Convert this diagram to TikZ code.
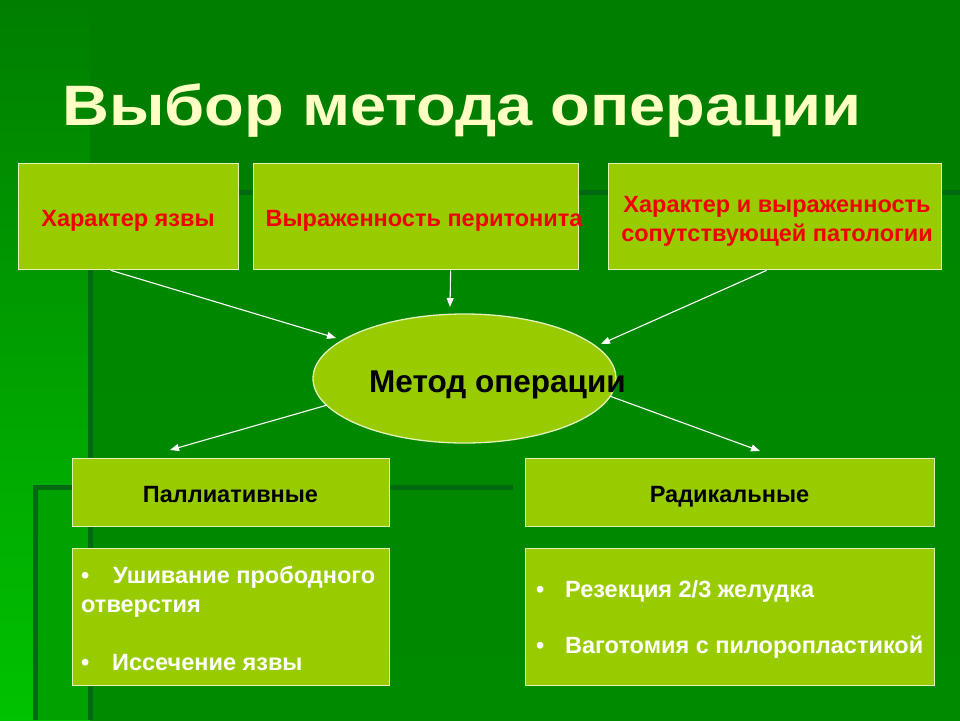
\documentclass[tikz,border=0pt]{standalone}
\usepackage{fontspec}
\setmainfont{Liberation Sans}
\newfontfamily\titlefont[FakeStretch=1.14]{Liberation Sans}
\usetikzlibrary{shapes.geometric,arrows.meta}
\definecolor{bgtop}{HTML}{007E00}
\definecolor{bgmid}{HTML}{008600}
\definecolor{bgbot}{HTML}{00C200}
\definecolor{panelA}{HTML}{008A00}
\definecolor{panelB}{HTML}{00A200}
\definecolor{edgedark}{HTML}{006A12}
\definecolor{boxfill}{HTML}{99CC00}
\definecolor{boxline}{HTML}{E2F2B8}
\definecolor{titlecol}{HTML}{FFFFC4}
\definecolor{redtext}{HTML}{F00000}
\tikzset{
  boxnode/.style={draw=boxline, line width=1.3pt, fill=boxfill, inner sep=0pt, anchor=north west},
  redlbl/.style={text=redtext, font=\fontsize{23.5}{28}\selectfont\bfseries, inner sep=0pt},
  blacklbl/.style={text=black, font=\fontsize{23.5}{28}\selectfont\bfseries, inner sep=0pt},
  whitelbl/.style={text=white, font=\fontsize{23.5}{28}\selectfont\bfseries, inner sep=0pt, anchor=base west},
  arr/.style={draw=white, line width=1.1pt, -{Triangle[length=9pt,width=7pt]}},
}
\begin{document}
\begin{tikzpicture}[x=1pt,y=-1pt]
\useasboundingbox (0,0) rectangle (960,720);
% background
\fill[bgtop] (0,0) rectangle (960,720);
\shade[top color=bgtop, bottom color=bgbot] (0,0) rectangle (90,720);
\shade[top color=bgmid, bottom color=panelA] (90,192) rectangle (960,720);
\fill[panelB] (35,487) rectangle (90,720);
\fill[edgedark] (88,190) rectangle (960,195);
\fill[edgedark] (88,190) rectangle (93,720);
\fill[edgedark] (33,485) rectangle (513,490);
\fill[edgedark] (33,485) rectangle (38,720);
% title
\node[anchor=base west, inner sep=0pt, text=titlecol, font=\titlefont\fontsize{57}{66}\selectfont\bfseries] (title) at (62,125) {Выбор метода операции};
% top boxes
\node[boxnode, minimum width=220pt, minimum height=106pt] (b1) at (18,163) {};
\node[boxnode, minimum width=325pt, minimum height=106pt] (b2) at (253,163) {};
\node[boxnode, minimum width=333pt, minimum height=106pt] (b3) at (608,163) {};
\node[redlbl, anchor=base] (t1) at (128,226) {Характер язвы};
\node[redlbl, anchor=base] (t2) at (424,226) {Выраженность перитонита};
\node[redlbl, anchor=base] (t3a) at (777,212) {Характер и выраженность};
\node[redlbl, anchor=base] (t3b) at (777,241) {сопутствующей патологии};
% ellipse
\node[ellipse, draw=boxline, line width=1.3pt, fill=boxfill, minimum width=303pt, minimum height=129pt, inner sep=0pt] (ell) at (464.5,378.5) {};
\node[anchor=base, inner sep=0pt, font=\fontsize{31.5}{36}\selectfont\bfseries] (etxt) at (497.5,392) {Метод операции};
% middle boxes
\node[boxnode, minimum width=317pt, minimum height=68pt] (b4) at (72,458) {};
\node[boxnode, minimum width=409pt, minimum height=68pt] (b5) at (525,458) {};
\node[blacklbl, anchor=base] (t4) at (230.5,502) {Паллиативные};
\node[blacklbl, anchor=base] (t5) at (729.5,502) {Радикальные};
% lower boxes
\node[boxnode, minimum width=317pt, minimum height=137pt] (b6) at (72,548) {};
\node[boxnode, minimum width=409pt, minimum height=137pt] (b7) at (525,548) {};
\node[whitelbl] (u1) at (81,583) {•};
\node[whitelbl] (u2) at (113,583) {Ушивание прободного};
\node[whitelbl] (u3) at (81,612) {отверстия};
\node[whitelbl] (u4) at (81,670) {•};
\node[whitelbl] (u5) at (112,670) {Иссечение язвы};
\node[whitelbl] (r1) at (536,597) {•};
\node[whitelbl] (r2) at (565,597) {Резекция 2/3 желудка};
\node[whitelbl] (r3) at (536,653) {•};
\node[whitelbl] (r4) at (565,653) {Ваготомия с пилоропластикой};
% connectors
\coordinate (e1) at (336,338);
\coordinate (e2) at (450,307);
\coordinate (e3) at (601,344);
\coordinate (e4) at (170,450);
\coordinate (e5) at (760,451);
\draw[arr] ([xshift=-18pt]b1.south) -- (e1);
\draw[arr] ([xshift=34.5pt]b2.south) -- (e2);
\draw[arr] ([xshift=-8.5pt]b3.south) -- (e3);
\draw[arr] (ell.191) -- (e4);
\draw[arr] (ell.-7.6) -- (e5);
\end{tikzpicture}
\end{document}
